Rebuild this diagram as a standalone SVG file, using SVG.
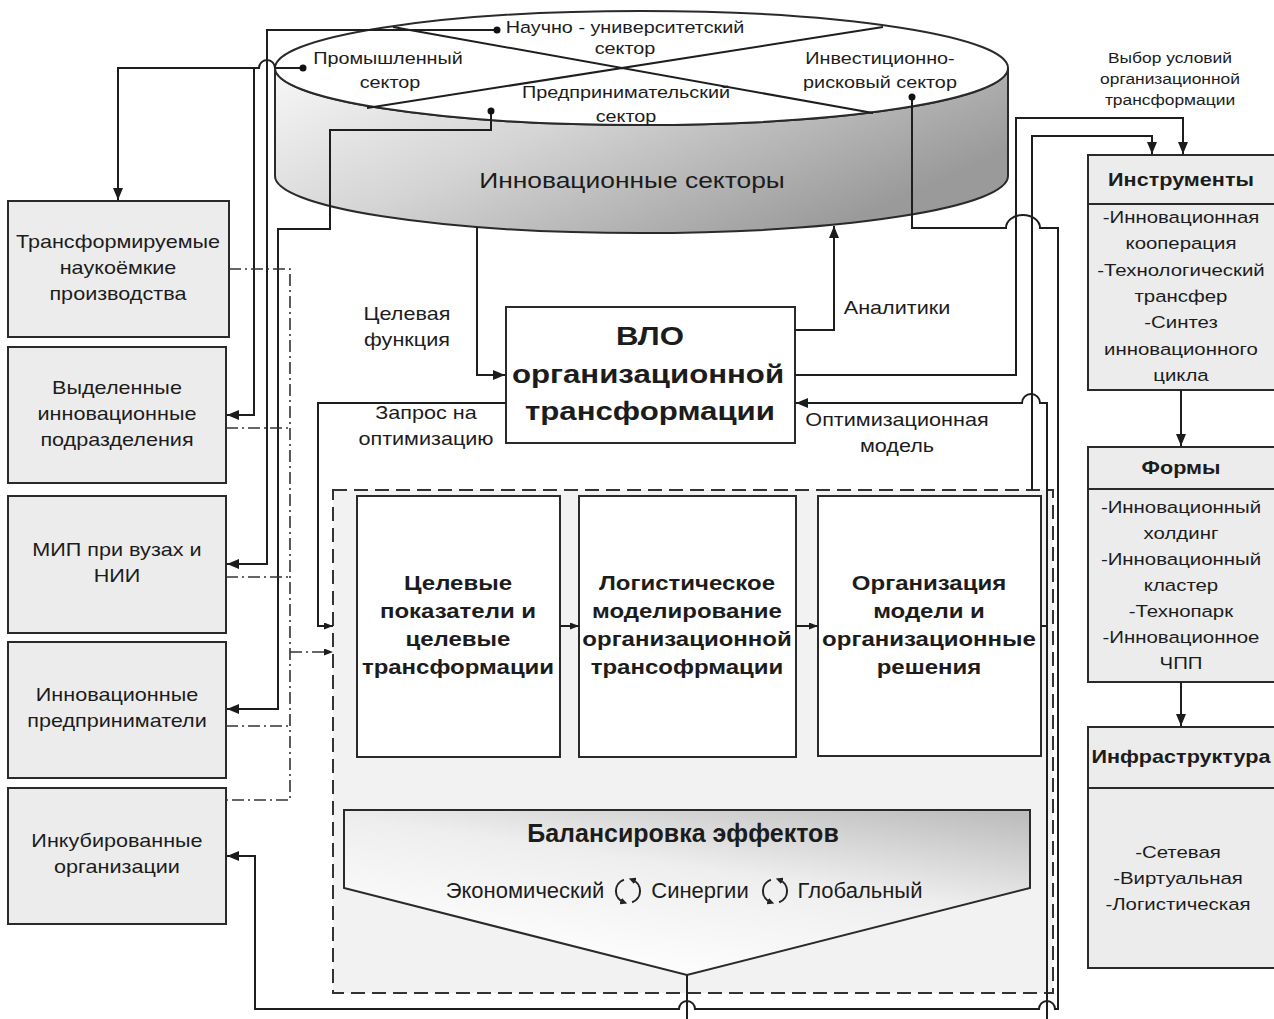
<svg xmlns="http://www.w3.org/2000/svg" width="1274" height="1019" viewBox="0 0 1274 1019">
<defs>
  <linearGradient id="cylSide" x1="0" y1="0" x2="1" y2="0.5">
    <stop offset="0" stop-color="#f7f7f7"/>
    <stop offset="0.45" stop-color="#d4d4d4"/>
    <stop offset="1" stop-color="#9a9a9a"/>
  </linearGradient>
  <linearGradient id="balFill" x1="0.35" y1="1" x2="0.95" y2="0">
    <stop offset="0" stop-color="#ffffff"/>
    <stop offset="0.55" stop-color="#eeeeee"/>
    <stop offset="1" stop-color="#bcbcbc"/>
  </linearGradient>
  <marker id="arr" viewBox="0 0 12 10" refX="12" refY="5" markerWidth="12" markerHeight="10" markerUnits="userSpaceOnUse" orient="auto">
    <path d="M0,0 L12,5 L0,10 z" fill="#1c1c1c"/>
  </marker>
  <marker id="arrS" viewBox="0 0 9 7" refX="9" refY="3.5" markerWidth="9" markerHeight="7" markerUnits="userSpaceOnUse" orient="auto">
    <path d="M0,0 L9,3.5 L0,7 z" fill="#1c1c1c"/>
  </marker>
  <marker id="cyc" viewBox="0 0 7 7" refX="3.5" refY="3.5" markerWidth="7" markerHeight="7" markerUnits="userSpaceOnUse" orient="auto">
    <path d="M0,0 L7,3.5 L0,7 z" fill="#222"/>
  </marker>
</defs>
<style>
  text { font-family: "Liberation Sans", Arial, Helvetica, sans-serif; text-anchor: middle; fill: #1c1c1c;
         transform-box: fill-box; transform-origin: 50% 50%; transform: scaleX(1.2); }
  text.ns { transform: none; }
  .sec { font-size: 16.5px; }
  .big { font-size: 22px; }
  .lbl { font-size: 18px; }
  .box { font-size: 18px; }
  .note { font-size: 14.5px; }
  .lst { font-size: 17px; }
  .hdr { font-size: 18px; font-weight: bold; }
  .vlo { font-size: 26px; font-weight: bold; }
  .proc { font-size: 20px; font-weight: bold; }
  .bal { font-size: 25px; font-weight: bold; }
  .eff { font-size: 22px; }
  .gbox { fill: #ececec; stroke: #2a2a2a; stroke-width: 2; }
  .wbox { fill: #ffffff; stroke: #2a2a2a; stroke-width: 2; }
  .ln { fill: none; stroke: #1e1e1e; stroke-width: 2; }
  .ar { marker-end: url(#arr); }
  .as { marker-end: url(#arrS); }
  .dd { fill: none; stroke: #333; stroke-width: 1.6; stroke-dasharray: 12 4 2 4; }
  .dot { fill: #111; }
  .cy { fill: none; stroke: #222; stroke-width: 2; marker-end: url(#cyc); }
</style>

<!-- process frame (dashed container) -->
<g id="process-frame">
  <rect x="333" y="490" width="720" height="503" fill="#f2f2f2" stroke="#333" stroke-width="2" stroke-dasharray="14 7"/>
</g>

<!-- innovation sectors cylinder -->
<g id="sectors">
  <path d="M275,68 L275,176 A366.5,57 0 0 0 1008,176 L1008,68 A366.5,57 0 0 1 275,68 Z" fill="url(#cylSide)" stroke="#2a2a2a" stroke-width="2"/>
  <ellipse cx="641.5" cy="68" rx="366.5" ry="57" fill="#ffffff" stroke="#2a2a2a" stroke-width="2"/>
  <path d="M393,27 L873,113 M367,108 L883,27" class="ln"/>
  <text class="sec" x="625" y="33">Научно - университетский</text>
  <text class="sec" x="625" y="54">сектор</text>
  <text class="sec" x="388" y="64">Промышленный</text>
  <text class="sec" x="390" y="88">сектор</text>
  <text class="sec" x="880" y="64">Инвестиционно-</text>
  <text class="sec" x="880" y="88">рисковый сектор</text>
  <text class="sec" x="626" y="98">Предпринимательский</text>
  <text class="sec" x="626" y="122">сектор</text>
  <text class="big" x="632" y="188">Инновационные секторы</text>
</g>

<!-- left column: organisations -->
<g id="transformed-production">
  <rect class="gbox" x="8" y="201" width="221" height="136"/>
  <text class="box" x="118" y="248">Трансформируемые</text>
  <text class="box" x="118" y="274">наукоёмкие</text>
  <text class="box" x="118" y="300">производства</text>
</g>
<g id="spinoff-divisions">
  <rect class="gbox" x="8" y="347" width="218" height="136"/>
  <text class="box" x="117" y="394">Выделенные</text>
  <text class="box" x="117" y="420">инновационные</text>
  <text class="box" x="117" y="446">подразделения</text>
</g>
<g id="small-enterprises">
  <rect class="gbox" x="8" y="496" width="218" height="137"/>
  <text class="box" x="117" y="556">МИП при вузах и</text>
  <text class="box" x="117" y="582">НИИ</text>
</g>
<g id="entrepreneurs">
  <rect class="gbox" x="8" y="642" width="218" height="136"/>
  <text class="box" x="117" y="701">Инновационные</text>
  <text class="box" x="117" y="727">предприниматели</text>
</g>
<g id="incubated">
  <rect class="gbox" x="8" y="788" width="218" height="136"/>
  <text class="box" x="117" y="847">Инкубированные</text>
  <text class="box" x="117" y="873">организации</text>
</g>

<!-- central control block -->
<g id="vlo">
  <rect class="wbox" x="506" y="307" width="289" height="136"/>
  <text class="vlo" x="650" y="345">ВЛО</text>
  <text class="vlo" x="648" y="383">организационной</text>
  <text class="vlo" x="650" y="420">трансформации</text>
</g>

<!-- process steps -->
<g id="targets">
  <rect class="wbox" x="357" y="496" width="203" height="261"/>
  <text class="proc" x="458" y="590">Целевые</text>
  <text class="proc" x="458" y="618">показатели и</text>
  <text class="proc" x="458" y="646">целевые</text>
  <text class="proc" x="458" y="674">трансформации</text>
</g>
<g id="logistic-model">
  <rect class="wbox" x="579" y="496" width="217" height="261"/>
  <text class="proc" x="687" y="590">Логистическое</text>
  <text class="proc" x="687" y="618">моделирование</text>
  <text class="proc" x="687" y="646">организационной</text>
  <text class="proc" x="687" y="674">трансофрмации</text>
</g>
<g id="org-decisions">
  <rect class="wbox" x="818" y="496" width="223" height="260"/>
  <text class="proc" x="929" y="590">Организация</text>
  <text class="proc" x="929" y="618">модели и</text>
  <text class="proc" x="929" y="646">организационные</text>
  <text class="proc" x="929" y="674">решения</text>
</g>
<g id="balancing">
  <polygon points="344,810 1030,810 1030,888 687,975 344,888" fill="url(#balFill)" stroke="#2a2a2a" stroke-width="2"/>
  <text class="bal ns" x="683" y="842">Балансировка эффектов</text>
  <text class="eff ns" x="525" y="898">Экономический</text>
  <text class="eff ns" x="700" y="898">Синергии</text>
  <text class="eff ns" x="860" y="898">Глобальный</text>
  <g transform="translate(628,891)">
    <path class="cy" d="M-4.1,-11.3 A12,12 0 0 0 -4.1,11.3"/>
    <path class="cy" d="M4.1,11.3 A12,12 0 0 0 4.1,-11.3"/>
  </g>
  <g transform="translate(775,891)">
    <path class="cy" d="M-4.1,-11.3 A12,12 0 0 0 -4.1,11.3"/>
    <path class="cy" d="M4.1,11.3 A12,12 0 0 0 4.1,-11.3"/>
  </g>
</g>

<!-- right column -->
<g id="instruments">
  <rect class="gbox" x="1088" y="155" width="200" height="235"/>
  <line x1="1088" y1="204" x2="1288" y2="204" stroke="#2a2a2a" stroke-width="2"/>
  <text class="hdr" x="1181" y="186">Инструменты</text>
  <text class="lst" x="1181" y="223">-Инновационная</text>
  <text class="lst" x="1181" y="249">кооперация</text>
  <text class="lst" x="1181" y="276">-Технологический</text>
  <text class="lst" x="1181" y="302">трансфер</text>
  <text class="lst" x="1181" y="328">-Синтез</text>
  <text class="lst" x="1181" y="355">инновационного</text>
  <text class="lst" x="1181" y="381">цикла</text>
</g>
<g id="forms">
  <rect class="gbox" x="1088" y="447" width="200" height="235"/>
  <line x1="1088" y1="489" x2="1288" y2="489" stroke="#2a2a2a" stroke-width="2"/>
  <text class="hdr" x="1181" y="474">Формы</text>
  <text class="lst" x="1181" y="513">-Инновационный</text>
  <text class="lst" x="1181" y="539">холдинг</text>
  <text class="lst" x="1181" y="565">-Инновационный</text>
  <text class="lst" x="1181" y="591">кластер</text>
  <text class="lst" x="1181" y="617">-Технопарк</text>
  <text class="lst" x="1181" y="643">-Инновационное</text>
  <text class="lst" x="1181" y="669">ЧПП</text>
</g>
<g id="infrastructure">
  <rect class="gbox" x="1088" y="727" width="200" height="241"/>
  <line x1="1088" y1="788" x2="1288" y2="788" stroke="#2a2a2a" stroke-width="2"/>
  <text class="hdr" x="1181" y="763">Инфраструктура</text>
  <text class="lst" x="1178" y="858">-Сетевая</text>
  <text class="lst" x="1178" y="884">-Виртуальная</text>
  <text class="lst" x="1178" y="910">-Логистическая</text>
</g>

<!-- connectors -->
<g id="connectors">
  <!-- industrial sector -->
  <path class="ln ar" d="M303,68 H275 A8,8 0 0 0 259,68 H118 V200"/>
  <path class="ln ar" d="M254,68 V415 H227"/>
  <!-- research & university sector -->
  <path class="ln ar" d="M497,30 H267 V564 H227"/>
  <!-- entrepreneurial sector -->
  <path class="ln ar" d="M491,111 V130 H330 V229 H278 V709 H227"/>
  <!-- venture sector -->
  <path class="ln ar" d="M912,97 V228 H1006 A17,13 0 0 1 1040,228 H1058 V1009 H1055 A8,8 0 0 0 1039,1009 H695 A8,8 0 0 0 679,1009 H255 V856 H227"/>
  <!-- target function / analytics -->
  <path class="ln ar" d="M477,227 V375 H505"/>
  <path class="ln ar" d="M795,330 H834 V226"/>
  <!-- optimisation request -->
  <path class="ln as" d="M506,403 H318 V626 H333"/>
  <!-- choice of transformation conditions -->
  <path class="ln ar" d="M795,375 H1016 V118 H1183 V154"/>
  <path class="ln ar" d="M1032,490 V136 H1152 V154"/>
  <!-- optimisation model -->
  <path class="ln ar" d="M1047,1019 V403 H1040 A9,9 0 0 0 1022,403 H796"/>
  <path class="ln" d="M1041,626 H1047"/>
  <path class="ln" d="M687,975 V1019"/>
  <!-- process chain -->
  <path class="ln as" d="M560,626 H579"/>
  <path class="ln as" d="M796,626 H818"/>
  <!-- right column chain -->
  <path class="ln ar" d="M1181,390 V446"/>
  <path class="ln ar" d="M1181,682 V726"/>
  <!-- feedback from organisations -->
  <path class="dd" d="M229,269 H290 V800 H226"/>
  <path class="dd" d="M226,428 H290 M226,577 H290 M226,726 H290"/>
  <path class="dd as" d="M290,652 H333"/>
  <!-- sector dots -->
  <circle class="dot" cx="303" cy="68" r="3.5"/>
  <circle class="dot" cx="497" cy="30" r="3.5"/>
  <circle class="dot" cx="491" cy="111" r="3.5"/>
  <circle class="dot" cx="912" cy="97" r="3.5"/>
  <!-- connector labels -->
  <text class="lbl" x="407" y="320">Целевая</text>
  <text class="lbl" x="407" y="346">функция</text>
  <text class="lbl" x="897" y="314">Аналитики</text>
  <text class="lbl" x="426" y="419">Запрос на</text>
  <text class="lbl" x="426" y="445">оптимизацию</text>
  <text class="lbl" x="897" y="426">Оптимизационная</text>
  <text class="lbl" x="897" y="452">модель</text>
  <text class="note" x="1170" y="63">Выбор условий</text>
  <text class="note" x="1170" y="84">организационной</text>
  <text class="note" x="1170" y="105">трансформации</text>
</g>
</svg>
